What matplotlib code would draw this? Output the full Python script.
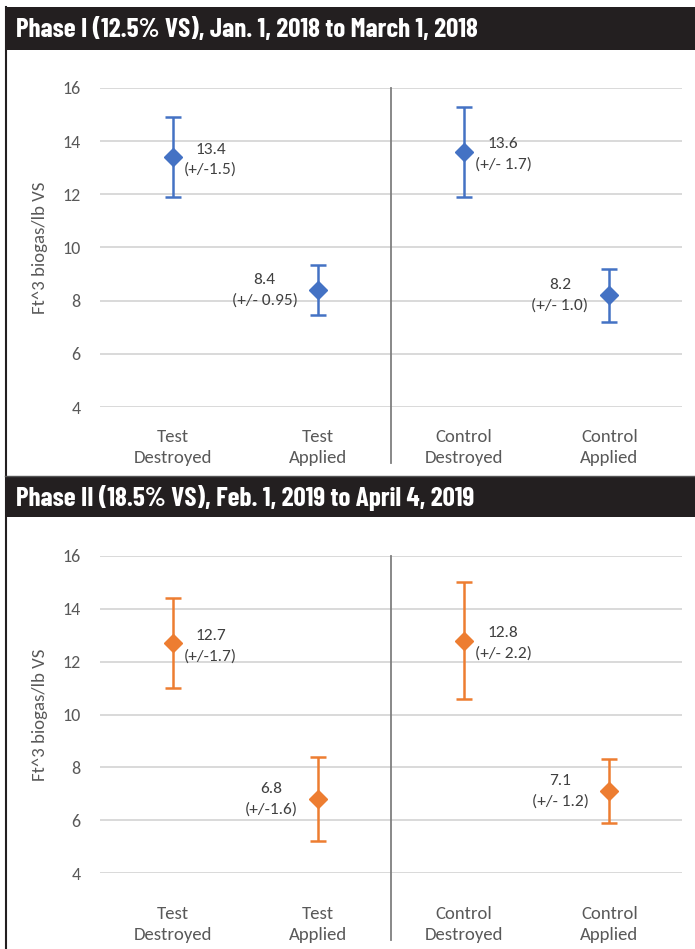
import matplotlib
matplotlib.use("Agg")
import matplotlib.pyplot as plt
from matplotlib.patches import Rectangle
from matplotlib.lines import Line2D

W, H = 695, 949

categories = ["Test\nDestroyed", "Test\nApplied", "Control\nDestroyed", "Control\nApplied"]
titles = ["Phase I (12.5% VS), Jan. 1, 2018 to March 1, 2018",
          "Phase II (18.5% VS), Feb. 1, 2019 to April 4, 2019"]
phase1_means = [13.4, 8.4, 13.6, 8.2]
phase1_err = [1.5, 0.95, 1.7, 1.0]
phase1_labels = ["13.4\n(+/-1.5)", "8.4\n(+/- 0.95)", "13.6\n(+/- 1.7)", "8.2\n(+/- 1.0)"]
phase2_means = [12.7, 6.8, 12.8, 7.1]
phase2_err = [1.7, 1.6, 2.2, 1.2]
phase2_labels = ["12.7\n(+/-1.7)", "6.8\n(+/-1.6)", "12.8\n(+/- 2.2)", "7.1\n(+/- 1.2)"]
yticks = [4, 6, 8, 10, 12, 14, 16]

plt.rcParams['font.family'] = ['Carlito', 'DejaVu Sans']
fig = plt.figure(figsize=(W / 100, H / 100), dpi=100)
fig.patch.set_facecolor("white")

GRAY = "#595959"


def fx(px):
    return px / W


def fy(py):
    return 1 - py / H


def draw_panel(head_top, head_bot, ax_top, ax_bot, div_bot, xpad, title, means, errs, labels, color):
    fig.patches.append(Rectangle((fx(5), fy(head_bot)), 1 - fx(5), (head_bot - head_top) / H,
                                 transform=fig.transFigure, facecolor="#231f20",
                                 edgecolor="none", zorder=0))
    fig.text(fx(16), fy((head_top + head_bot) / 2 + 1), title, color="white",
             fontsize=19.5, fontweight="bold", va="center", ha="left",
             family=['Barlow Condensed', 'DejaVu Sans'])

    ax = fig.add_axes([fx(100), fy(ax_bot), fx(682) - fx(100), (ax_bot - ax_top) / H])
    ax.set_xlim(-0.5, 3.5)
    ax.set_ylim(4, 16)
    ax.set_yticks(yticks)
    ax.set_xticks(range(len(categories)))
    ax.set_xticklabels(categories, fontsize=13.5, color=GRAY, linespacing=1.35)
    ax.tick_params(axis="y", length=0, pad=14, labelsize=13, labelcolor=GRAY)
    ax.tick_params(axis="x", length=0, pad=xpad)
    for s in ax.spines.values():
        s.set_visible(False)
    ax.grid(axis="y", color="#d9d9d9", linewidth=1.4)
    ax.set_axisbelow(True)
    ax.set_ylabel("Ft^3 biogas/lb VS", fontsize=13.5, color=GRAY, labelpad=10)

    ymin = -(div_bot - ax_bot) / (ax_bot - ax_top)
    ax.axvline(1.5, ymin=ymin, ymax=1, color="#7f7f7f", linewidth=1.3, clip_on=False)

    xs = list(range(len(means)))
    ax.errorbar(xs, means, yerr=errs, fmt="D", color=color, ecolor=color,
                markersize=9.5, elinewidth=1.8, capsize=5.5, capthick=1.8, zorder=3)

    for i, (m, lab) in enumerate(zip(means, labels)):
        if i % 2 == 0:
            ax.annotate(lab, (i, m), xytext=(8, -2), textcoords="offset points",
                        ha="left", va="center", fontsize=12.5, color="#404040",
                        multialignment="center", linespacing=1.55)
        else:
            ax.annotate(lab, (i, m), xytext=(-15, 0), textcoords="offset points",
                        ha="right", va="center", fontsize=12.5, color="#404040",
                        multialignment="center", linespacing=1.55)
    return ax


draw_panel(7, 50, 88, 407, 463, 16, titles[0], phase1_means, phase1_err, phase1_labels, "#4472c4")
draw_panel(477, 517, 556, 873, 940, 24, titles[1], phase2_means, phase2_err, phase2_labels, "#ed7d31")

# outer frame lines
fig.lines.append(Line2D([fx(5.5), fx(5.5)], [fy(7), fy(949)], transform=fig.transFigure,
                        color="#231f20", linewidth=1.5))
fig.lines.append(Line2D([fx(5), 1], [fy(476), fy(476)], transform=fig.transFigure,
                        color="#555555", linewidth=1.0))

fig.savefig("out.png", dpi=100)
